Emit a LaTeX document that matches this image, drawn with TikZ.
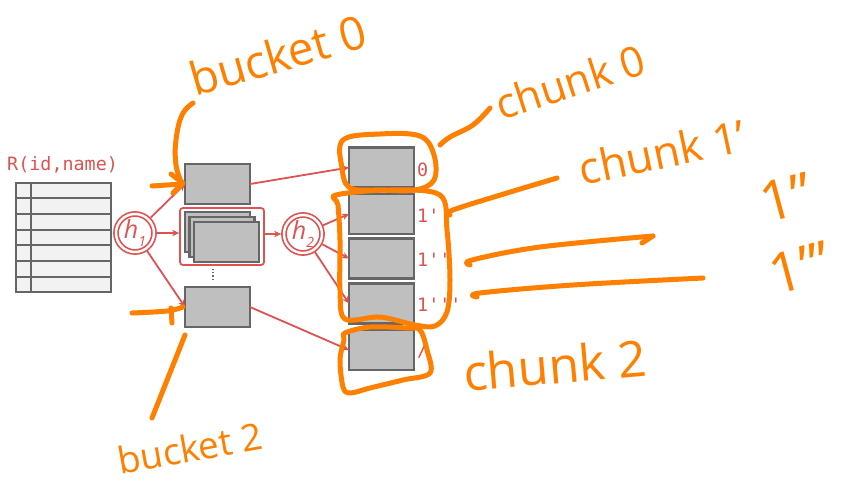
\documentclass[tikz,border=0pt]{standalone}
\usepackage{fontspec}
\setmainfont{Open Sans}
\setmonofont{DejaVu Sans Mono}
\newfontfamily\handfont{Fira Sans}
\usetikzlibrary{arrows.meta,calc}

\definecolor{hred}{RGB}{222,82,82}
\definecolor{boxfill}{RGB}{191,191,191}
\definecolor{boxline}{RGB}{102,102,102}
\definecolor{rowfill}{RGB}{242,242,242}
\definecolor{marker}{RGB}{255,128,0}

\tikzset{
  block/.style={draw=boxline, fill=boxfill, line width=2.1pt,
    minimum width=65pt, minimum height=40pt, inner sep=0pt, outer sep=0pt},
  hashfn/.style={circle, draw=hred, line width=1.7pt, double=white,
    double distance=2.4pt, minimum size=38pt, inner sep=0pt, outer sep=2.9pt,
    text=hred, font=\fontsize{25}{25}\selectfont\itshape},
  group/.style={draw=hred, line width=1.8pt, rounded corners=3pt,
    minimum width=84pt, minimum height=57pt, inner sep=0pt},
  flow/.style={draw=hred, line width=1.8pt, -{Stealth[length=7pt,width=6.5pt]}},
  tag/.style={text=hred, font=\fontsize{18.4}{20}\selectfont\ttfamily,
    inner sep=0pt},
  ink/.style={draw=marker, line width=5pt, line cap=round, line join=round},
  scrawl/.style={text=marker, inner sep=0pt, font=\handfont\itshape},
}

\newcommand{\hsub}[1]{h\raisebox{-0.3em}{\fontsize{14}{14}\selectfont #1}}

\begin{document}
\begin{tikzpicture}[x=1pt,y=-1pt]
\useasboundingbox (0,0) rectangle (849,485);

% relation table
\node[tag, anchor=base west] (rel) at (7,170) {R(id,name)};
\node[draw=boxline, fill=rowfill, line width=2.1pt, minimum width=95pt,
      minimum height=109pt, inner sep=0pt] (tbl) at (63.5,237.5) {};
\foreach \i in {1,...,6}
  \draw[boxline, line width=2.1pt]
    ($(tbl.north west)!\i/7!(tbl.south west)$) --
    ($(tbl.north east)!\i/7!(tbl.south east)$);
\draw[boxline, line width=2.1pt]
  ($(tbl.north west)+(16,0)$) -- ($(tbl.south west)+(16,0)$);

% first hash and its buckets
\node[hashfn] (h1) at (135,233) {\hsub{1}};
\node[block] (b0) at (217.5,184) {};
\node[group] (grp) at (222,236.5) {};
\node[block] (s1) at (217.5,232) {};
\node[block] (s2) at (222,237) {};
\node[block] (s3) at (226.5,242) {};
\node[block] (b2) at (217.5,307) {};
\draw[boxline, line width=1.2pt, dash pattern=on 1.2pt off 2pt]
  ($(grp.south)+(-9,3)$) -- ++(0,10);

% second hash and the chunks
\node[hashfn] (h2) at (303,234) {\hsub{2}};
\node[block] (c0) at (381.5,167.5) {};
\node[block] (c1) at (381.5,214) {};
\node[block] (c2) at (381.5,258.5) {};
\node[block] (c3) at (381.5,303.5) {};
\node[block] (c4) at (381.5,350) {};
\node[tag, anchor=west, xshift=3pt, yshift=-2pt] (t0) at (c0.east) {0};
\node[tag, anchor=west, xshift=3pt, yshift=-2pt] (t1) at (c1.east) {1'};
\node[tag, anchor=west, xshift=3pt, yshift=-1pt] (t2) at (c2.east) {1''};
\node[tag, anchor=west, xshift=3pt, yshift=-1pt] (t3) at (c3.east) {1'''};
\node[tag, anchor=west, xshift=3pt, yshift=-1pt] (t4) at (c4.east) {/};

% connectors
\draw[flow] (h1) -- (b0.west);
\draw[flow] (h1) -- (h1 -| grp.west);
\draw[flow] (h1) -- (b2.west);
\draw[flow] (h2 -| grp.east) -- (h2);
\draw[flow] (b0.east) -- (c0.west);
\draw[flow] (b2.east) -- (c4.west);
\foreach \t in {c1,c2,c3}
  \draw[flow] (h2) -- (\t.west);

% marker annotations
\draw[ink] plot[smooth cycle, tension=0.6] coordinates
  {(343,140) (380,134) (420,136) (434,155) (434,180) (415,190) (380,190) (350,188) (342,168)};
\draw[ink] plot[smooth cycle, tension=0.55] coordinates
  {(336,195) (390,190) (440,195) (447,230) (450,280) (447,312) (435,326) (415,325) (380,317) (345,319) (340,290) (340,240) (338,205)};
\draw[ink] plot[smooth cycle, tension=0.55] coordinates
  {(345,333) (370,327) (407,328) (420,330) (427,350) (430,373) (403,380) (370,388) (350,393) (343,387) (340,360) (344,340)};

\draw[ink] plot[smooth, tension=0.7] coordinates
  {(193,103) (182,115) (176,140) (176,165) (182,184)};
\draw[ink] (152,186) -- (182,184);
\draw[ink] (171,174) -- (183,183) -- (173,193);

\draw[ink] plot[smooth, tension=0.6] coordinates
  {(132,313) (167,311) (183,307)};
\draw[ink] (171,308) -- (172,323);
\draw[ink] (185,335) -- (152,418);

\draw[ink] plot[smooth, tension=0.6] coordinates
  {(440,145) (450,137) (473,125) (490,108)};
\draw[ink] plot[smooth, tension=0.6] coordinates
  {(450,215) (453,210) (507,193) (557,178)};
\draw[ink] plot[smooth, tension=0.6] coordinates
  {(470,265) (472,260) (540,247) (653,236)};
\draw[ink] (653,236) -- (642,243);
\draw[ink] plot[smooth, tension=0.6] coordinates
  {(477,297) (480,293) (573,285) (703,278)};

\node[scrawl, rotate=16, font=\fontsize{46}{46}\selectfont] (k0) at (278,55) {bucket 0};
\node[scrawl, rotate=18, font=\fontsize{42}{42}\selectfont] (n0) at (570,82) {chunk 0};
\node[scrawl, rotate=12, font=\fontsize{44}{44}\selectfont] (n1) at (662,152) {chunk 1'};
\node[scrawl, rotate=15, font=\fontsize{56}{56}\selectfont] (n2) at (786,198) {1''};
\node[scrawl, rotate=15, font=\fontsize{56}{56}\selectfont] (n3) at (800,268) {1'''};
\node[scrawl, rotate=5, font=\fontsize{50}{50}\selectfont] (n4) at (555,365) {chunk 2};
\node[scrawl, rotate=10, font=\fontsize{37}{37}\selectfont] (k2) at (190,448) {bucket 2};
\end{tikzpicture}
\end{document}
